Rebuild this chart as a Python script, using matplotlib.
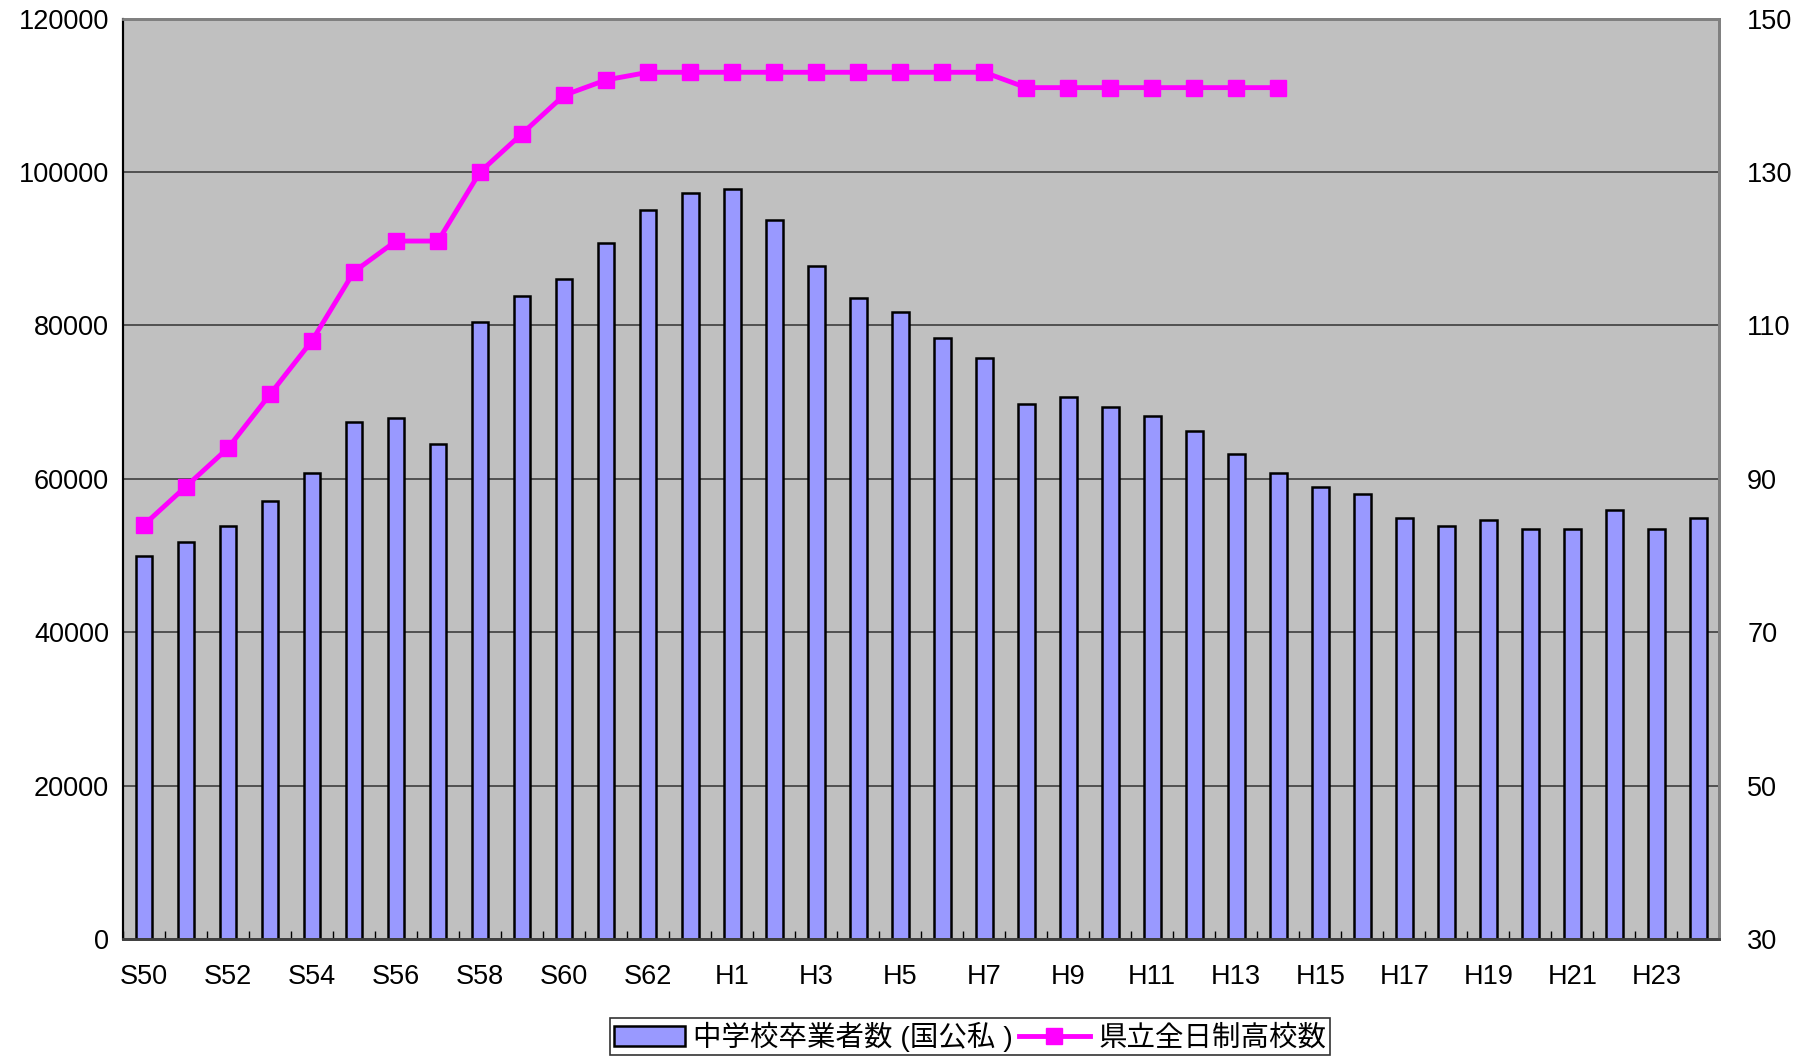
import matplotlib
matplotlib.use("Agg")
import matplotlib.pyplot as plt
import numpy as np

plt.rcParams['font.family'] = ['Liberation Sans', 'Noto Sans CJK JP', 'DejaVu Sans']

years = ["S50", "S51", "S52", "S53", "S54", "S55", "S56", "S57", "S58", "S59",
         "S60", "S61", "S62", "S63", "H1", "H2", "H3", "H4", "H5", "H6",
         "H7", "H8", "H9", "H10", "H11", "H12", "H13", "H14", "H15", "H16",
         "H17", "H18", "H19", "H20", "H21", "H22", "H23", "H24"]

graduates = [49900, 51800, 53800, 57100, 60800, 67400, 67900, 64500, 80400, 83900,
             86000, 90800, 95100, 97200, 97800, 93700, 87800, 83600, 81800, 78300,
             75700, 69700, 70700, 69400, 68200, 66300, 63200, 60800, 58900, 58000,
             54900, 53800, 54600, 53500, 53500, 55900, 53400, 54900]

schools = [84, 89, 94, 101, 108, 117, 121, 121, 130, 135,
           140, 142, 143, 143, 143, 143, 143, 143, 143, 143,
           143, 141, 141, 141, 141, 141, 141, 141]

left_ticks = [0, 20000, 40000, 60000, 80000, 100000, 120000]
right_ticks = [30, 50, 70, 90, 110, 130, 150]

bar_label = "中学校卒業者数 (国公私 )"
line_label = "県立全日制高校数"

fig = plt.figure(figsize=(18.18, 10.56), dpi=100)
ax = fig.add_axes([0.0676, 0.1107, 0.8782, 0.8717])
ax.set_facecolor('#C0C0C0')

x = np.arange(len(years))
bars = ax.bar(x, graduates, width=0.4, color='#9999FF', edgecolor='black',
              linewidth=1.8, zorder=3, label=bar_label)
ax.set_xlim(-0.5, len(years) - 0.5)
ax.set_ylim(0, 120000)
ax.set_yticks(left_ticks)
ax.set_yticklabels([str(v) for v in left_ticks], fontsize=19.5)
ax.yaxis.grid(True, color='#333333', linewidth=1.1, zorder=1)
ax.set_axisbelow(True)
ax.tick_params(axis='y', length=0, pad=10)

# category boundary ticks (inside) and labels every other category
ax.set_xticks(np.arange(len(years) + 1) - 0.5)
ax.set_xticklabels([])
ax.tick_params(axis='x', which='major', direction='in', length=6, width=1, color='black')
ax.set_xticks(x[::2], minor=True)
ax.set_xticklabels(years[::2], minor=True, fontsize=19.5)
ax.tick_params(axis='x', which='minor', length=0, pad=18)

ax2 = ax.twinx()
ax2.plot(np.arange(len(schools)), schools, color='#FF00FF', linewidth=3.5,
         marker='s', markersize=11, markeredgecolor='#FF00FF', zorder=5, label=line_label)
ax2.set_ylim(30, 150)
ax2.set_yticks(right_ticks)
ax2.set_yticklabels([str(v) for v in right_ticks], fontsize=19.5)
ax2.tick_params(axis='y', length=0, pad=20)

for a in (ax, ax2):
    a.spines['top'].set_color('#808080')
    a.spines['top'].set_linewidth(2)
    a.spines['right'].set_color('#808080')
    a.spines['right'].set_linewidth(2)
    a.spines['left'].set_color('black')
    a.spines['left'].set_linewidth(1.5)
    a.spines['bottom'].set_color('#404040')
    a.spines['bottom'].set_linewidth(2)

handles = [bars, ax2.get_lines()[0]]
leg = fig.legend(handles, [bar_label, line_label], loc='center',
                 bbox_to_anchor=(0.5336, 0.0185), ncol=2, fontsize=20.5,
                 frameon=True, fancybox=False, edgecolor='black',
                 borderpad=0.12, handlelength=2.5, handletextpad=0.3,
                 columnspacing=0.2, borderaxespad=0)
leg.get_frame().set_linewidth(1.2)

fig.savefig('out.png', dpi=100)
